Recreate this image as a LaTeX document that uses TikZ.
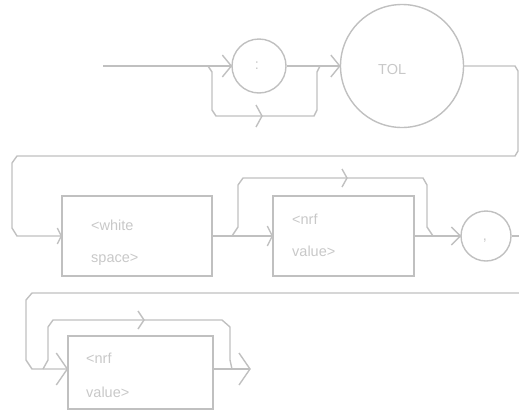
\documentclass[tikz,border=0pt]{standalone}
\usepackage{fontspec}
\setmainfont{Liberation Sans}
\definecolor{lc}{HTML}{C0C0C0}
\definecolor{tc}{HTML}{C8C8C8}
\begin{document}
\begin{tikzpicture}[x=1pt,y=-1pt,
  line/.style={draw=lc,line width=1.4pt,line join=miter},
  circ/.style={circle,draw=lc,line width=1.4pt,inner sep=0pt,minimum size=#1},
  boxn/.style={rectangle,draw=lc,line width=1.4pt,inner sep=0pt,minimum width=#1},
  txt/.style={text=tc,font=\fontsize{14.5}{16}\selectfont,inner sep=0pt},
  pics/chev/.style 2 args={code={\draw[line] (-#1,-#2) -- (0,0) -- (-#1,#2);}}]
\useasboundingbox (0,0) rectangle (519,410);
% nodes
\node[circ=54] (colon) at (259,66) {};
\node[circ=123] (tol) at (402,66) {};
\node[boxn=150,minimum height=80] (ws) at (137,236) {};
\node[boxn=141,minimum height=80] (nrfa) at (343.5,236) {};
\node[circ=50] (comma) at (486,236) {};
\node[boxn=145,minimum height=73] (nrfb) at (140.5,372.5) {};
\coordinate (start) at (103,66);
\coordinate (endb) at (250,369);
% texts
\node[txt,anchor=center] (tcolon) at (257,66) {:};
\node[txt,anchor=base west] (ttol) at (378,74) {TOL};
\node[txt,anchor=base west] (tws1) at (91,230) {<white};
\node[txt,anchor=base west] (tws2) at (91,262) {space>};
\node[txt,anchor=base west] (tna1) at (292,224) {<nrf};
\node[txt,anchor=base west] (tna2) at (292,256) {value>};
\node[txt,anchor=base] (tcomma) at (485,240) {,};
\node[txt,anchor=base west] (tnb1) at (86,363) {<nrf};
\node[txt,anchor=base west] (tnb2) at (86,397) {value>};
% row 1
\draw[line] (start) -- (colon.west);
\pic at (colon.west) {chev={9}{11}};
\draw[line] (208,66) -- (212,72) -- (212,110) -- (216,116) -- (314,116) -- (317,110) -- (317,72) -- (320,66);
\pic at (262,116) {chev={6}{11}};
\draw[line] (colon.east) -- (tol.west);
\pic at (tol.west) {chev={9}{11}};
% return to row 2
\draw[line] (tol.east) -- (515,66) -- (518,71) -- (518,151) -- (515,156) -- (17,156) -- (12,163) -- (12,228) -- (17,236) -- (ws.west);
\pic at (ws.west) {chev={4}{8}};
% row 2
\draw[line] (ws.east) -- (nrfa.west);
\pic at (nrfa.west) {chev={5}{10}};
\draw[line] (232,236) -- (238,227) -- (238,185) -- (243,178) -- (423,178) -- (427,185) -- (427,227) -- (433,236);
\pic at (347,178) {chev={5}{9}};
\draw[line] (nrfa.east) -- (comma.west);
\pic at (comma.west) {chev={9}{9}};
\draw[line] (comma.east) -- (519,236);
% return to row 3
\draw[line] (519,293) -- (32,293) -- (26,300) -- (26,360) -- (32,369) -- (nrfb.west |- 0,369);
\pic at (nrfb.west |- 0,369) {chev={11}{16}};
% row 3
\draw[line] (43,369) -- (48,360) -- (48,327) -- (53,320) -- (222,320) -- (230,327) -- (230,360) -- (232,369);
\pic at (144,320) {chev={6}{9}};
\draw[line] (nrfb.east |- 0,369) -- (endb);
\pic at (endb) {chev={11}{16}};
\end{tikzpicture}
\end{document}
